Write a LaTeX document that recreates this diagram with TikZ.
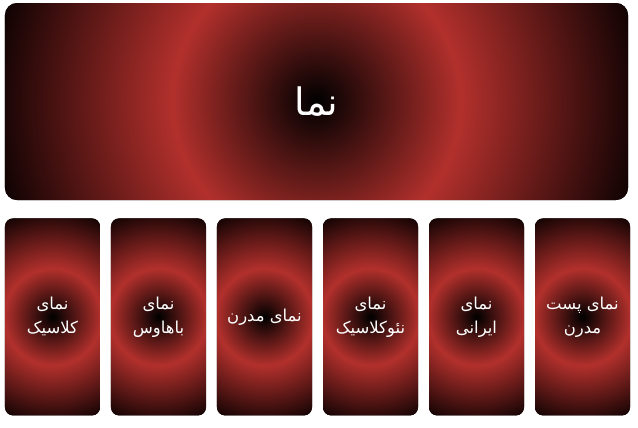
\documentclass[tikz,border=0pt]{standalone}
\usepackage{fontspec}
\newfontfamily\persianfont[Script=Arabic]{DejaVu Sans}
\TeXXeTstate=1
\usetikzlibrary{positioning}

\definecolor{namared}{RGB}{178,48,44}
\definecolor{namadark}{RGB}{14,2,2}
\pgfdeclareradialshading{namashade}{\pgfpoint{0bp}{0bp}}{color(0bp)=(black); color(11bp)=(namared); color(25bp)=(namadark); color(50bp)=(namadark)}

\tikzset{
    glow/.style={fill=namadark, path picture={\shade[shading=namashade] (path picture bounding box.center) circle (#1);}},
    topbox/.style={rounded corners=12bp, minimum width=623bp, minimum height=197bp, glow=327bp, text=white, font=\persianfont\fontsize{38}{44}\selectfont},
    facadebox/.style={rounded corners=8bp, minimum width=95bp, minimum height=197bp, glow=110bp, text=white, align=center, inner sep=2bp, font=\persianfont\fontsize{16.5}{24}\selectfont},
}

\begin{document}
\begin{tikzpicture}[x=1bp, y=-1bp]
    \useasboundingbox (0,0) rectangle (638,427);

    \node[topbox] (nama) at (316.5,101.5) {\beginR نما\endR};

    % the six kinds of facade
    \node[facadebox, below right=18bp and 0bp of nama.south west] (classic) {\beginR نمای\endR\\\beginR کلاسیک\endR};
    \node[facadebox, right=10.6bp of classic] (bauhaus) {\beginR نمای\endR\\\beginR باهاوس\endR};
    \node[facadebox, right=10.6bp of bauhaus] (modern) {\beginR نمای مدرن\endR};
    \node[facadebox, right=10.6bp of modern] (neoclassic) {\beginR نمای\endR\\\beginR نئوکلاسیک\endR};
    \node[facadebox, right=10.6bp of neoclassic] (iranian) {\beginR نمای\endR\\\beginR ایرانی\endR};
    \node[facadebox, right=10.6bp of iranian] (postmodern) {\beginR نمای پست\endR\\\beginR مدرن\endR};
\end{tikzpicture}
\end{document}
